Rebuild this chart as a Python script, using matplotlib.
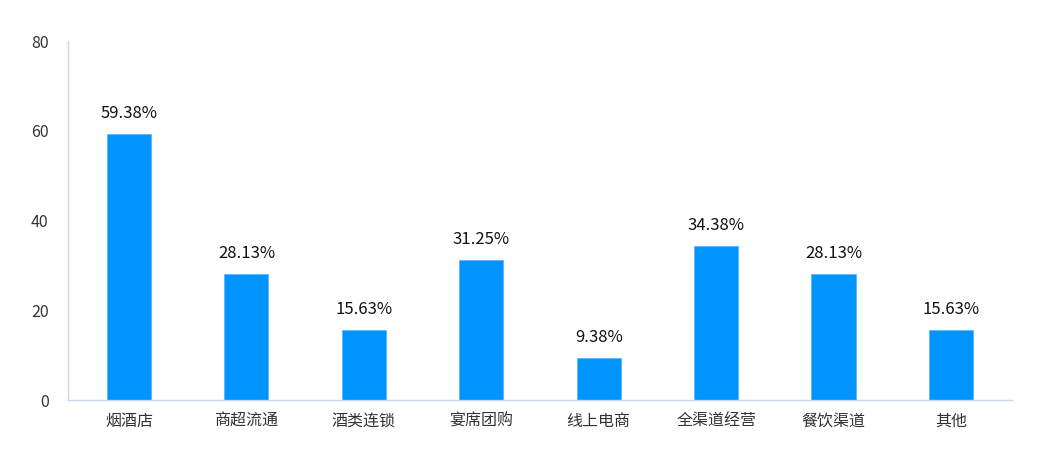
import matplotlib
matplotlib.use("Agg")
import matplotlib.pyplot as plt

plt.rcParams['font.family'] = ['Noto Sans CJK SC', 'DejaVu Sans']

categories = ['烟酒店', '商超流通', '酒类连锁', '宴席团购', '线上电商', '全渠道经营', '餐饮渠道', '其他']
values = [59.38, 28.13, 15.63, 31.25, 9.38, 34.38, 28.13, 15.63]
yticks = [0, 20, 40, 60, 80]

fig = plt.figure(figsize=(10.39, 4.62), dpi=100)
ax = fig.add_axes([0.0654, 0.134, 0.9086, 0.777])

x = range(len(categories))
bars = ax.bar(x, values, width=0.375, color='#0094FF', edgecolor='#5AB8FF', linewidth=0.6)

for b, v in zip(bars, values):
    ax.text(b.get_x() + b.get_width() / 2, v + 2.6, f'{v:.2f}%',
            ha='center', va='bottom', fontsize=12, color='#111111')

ax.set_xlim(-0.52, len(categories) - 0.48)
ax.set_ylim(0, 80)
ax.set_yticks(yticks)
ax.set_xticks(list(x))
ax.set_xticklabels(categories)
ax.tick_params(axis='both', length=0, labelsize=11.5, colors='#333333')
ax.tick_params(axis='y', pad=14)
ax.tick_params(axis='x', pad=9)

for s in ['top', 'right']:
    ax.spines[s].set_visible(False)
for s in ['left', 'bottom']:
    ax.spines[s].set_color('#C8D6F0')
    ax.spines[s].set_linewidth(1)

fig.savefig('out.png', dpi=100)
